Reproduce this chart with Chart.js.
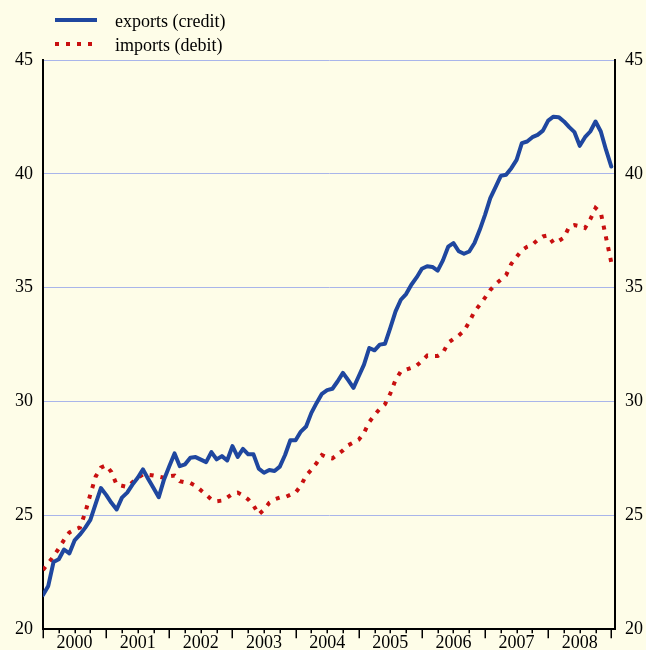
<!DOCTYPE html>
<html>
<head>
<meta charset="utf-8">
<script src="https://cdn.jsdelivr.net/npm/chart.js@4.4.1/dist/chart.umd.min.js"></script>
<style>
  html, body { margin: 0; padding: 0; background: #fefde8; }
  #wrap { width: 646px; height: 650px; }
  canvas { display: block; background: #fefde8; }
</style>
</head>
<body>
<div id="wrap"><canvas id="c" width="646" height="650"></canvas></div>
<script>
// Monthly series, starting January 2000 (index 0), billions
const years = ['2000', '2001', '2002', '2003', '2004', '2005', '2006', '2007', '2008'];

const exportsCredit = [
  21.5, 21.9, 22.95, 23.07, 23.5, 23.33, 23.9, 24.15, 24.45, 24.8, 25.5, 26.2,
  25.9, 25.55, 25.26, 25.78, 26.0, 26.35, 26.65, 27.02, 26.6, 26.2, 25.8, 26.58,
  27.16, 27.72, 27.16, 27.24, 27.53, 27.56, 27.45, 27.34, 27.78, 27.46, 27.6, 27.41,
  28.04, 27.57, 27.92, 27.68, 27.68, 27.05, 26.87, 26.99, 26.95, 27.14, 27.65, 28.3,
  28.3, 28.68, 28.9, 29.5, 29.94, 30.34, 30.5, 30.56, 30.89, 31.26, 30.94, 30.6,
  31.11, 31.62, 32.35, 32.25, 32.5, 32.54, 33.23, 33.96, 34.47, 34.72, 35.13, 35.45,
  35.83, 35.94, 35.91, 35.75, 36.2, 36.8, 36.96, 36.6, 36.49, 36.59, 36.96, 37.54,
  38.2, 38.93, 39.42, 39.91, 39.96, 40.25, 40.61, 41.35, 41.42, 41.61, 41.71, 41.9,
  42.34, 42.51, 42.49, 42.3, 42.05, 41.83, 41.23, 41.61, 41.86, 42.3, 41.86, 41.05,
  40.32
];

const importsDebit = [
  22.6, 22.9, 23.2, 23.55, 23.92, 24.25, 24.38, 24.46, 25.1, 25.92, 26.7, 27.1,
  27.2, 26.9, 26.35, 26.3, 26.25, 26.45, 26.65, 26.8, 26.78, 26.75, 26.7, 26.65,
  26.72, 26.75, 26.5, 26.45, 26.42, 26.3, 26.1, 25.9, 25.7, 25.62, 25.65, 25.78,
  25.95, 26.0, 25.88, 25.7, 25.44, 25.04, 25.25, 25.55, 25.7, 25.78, 25.8, 25.9,
  26.0, 26.3, 26.75, 27.0, 27.3, 27.65, 27.55, 27.5, 27.68, 27.85, 28.08, 28.2,
  28.32, 28.62, 29.1, 29.4, 29.68, 29.88, 30.35, 30.95, 31.32, 31.4, 31.48, 31.58,
  31.78, 32.02, 32.0, 32.0, 32.14, 32.58, 32.75, 32.9, 33.1, 33.5, 33.95, 34.25,
  34.56, 34.9, 35.15, 35.35, 35.55, 36.05, 36.35, 36.65, 36.8, 36.89, 37.1, 37.25,
  37.3, 36.95, 37.05, 37.2, 37.68, 37.75, 37.7, 37.62, 38.0, 38.5, 38.3, 37.2,
  36.1
];

const seriesNames = ['exports (credit)', 'imports (debit)'];
const yTicks = [20, 25, 30, 35, 40, 45];

const BLUE = '#1f479f';
const RED = '#c81010';
const GRID = '#a9b5ea';
const FONT = "'Liberation Serif', 'Times New Roman', serif";

const toPoints = arr => arr.map((v, i) => ({ x: i, y: v }));

// Quarter and year tick marks below the time axis
const timeTicks = {
  id: 'timeTicks',
  afterDraw(chart) {
    const { ctx, chartArea, scales } = chart;
    const x = scales.x;
    ctx.save();
    ctx.strokeStyle = '#000';
    ctx.lineWidth = 1.5;
    for (let m = 0; m <= years.length * 12; m += 3) {
      const px = Math.round(x.getPixelForValue(m)) + 0.25;
      const len = (m % 12 === 0) ? 9 : 4;
      ctx.beginPath();
      ctx.moveTo(px, chartArea.bottom);
      ctx.lineTo(px, chartArea.bottom + len);
      ctx.stroke();
    }
    ctx.restore();
  }
};

// Two-row key in the top-left corner
const keyBox = {
  id: 'keyBox',
  afterDraw(chart) {
    const { ctx } = chart;
    ctx.save();
    chart.data.datasets.forEach((ds, i) => {
      const y = 20 + i * 24;
      ctx.beginPath();
      ctx.strokeStyle = ds.borderColor;
      ctx.lineWidth = ds.borderWidth;
      ctx.lineCap = 'butt';
      ctx.setLineDash(ds.borderDash || []);
      ctx.moveTo(55, y);
      ctx.lineTo(97, y);
      ctx.stroke();
      ctx.setLineDash([]);
      ctx.fillStyle = '#000';
      ctx.font = '18px ' + FONT;
      ctx.textBaseline = 'middle';
      ctx.textAlign = 'left';
      ctx.fillText(ds.label, 115, y + 2);
    });
    ctx.restore();
  }
};

const yScaleBase = {
  type: 'linear',
  min: 20,
  max: 45,
  afterBuildTicks: s => { s.ticks = yTicks.map(v => ({ value: v })); },
  ticks: { color: '#000', padding: 10, font: { family: FONT, size: 18 } },
  border: { display: true, color: '#000', width: 2 }
};

new Chart(document.getElementById('c'), {
  type: 'line',
  data: {
    datasets: [
      {
        label: seriesNames[0],
        data: toPoints(exportsCredit),
        borderColor: BLUE,
        borderWidth: 4,
        pointRadius: 0,
        tension: 0,
        borderJoinStyle: 'round',
        borderCapStyle: 'round'
      },
      {
        label: seriesNames[1],
        data: toPoints(importsDebit),
        borderColor: RED,
        borderWidth: 4,
        borderDash: [4, 7],
        borderCapStyle: 'butt',
        pointRadius: 0,
        tension: 0
      }
    ]
  },
  options: {
    responsive: false,
    animation: false,
    layout: { padding: { top: 60, left: 0, right: 0, bottom: 0 } },
    plugins: { legend: { display: false }, tooltip: { enabled: false } },
    scales: {
      x: {
        type: 'linear',
        position: 'bottom',
        min: 0,
        max: years.length * 12 + 0.7,
        afterBuildTicks: s => { s.ticks = years.map((y, k) => ({ value: k * 12 + 6 })); },
        afterFit: s => { s.height = 20; },
        ticks: {
          autoSkip: false,
          maxRotation: 0,
          padding: 3,
          color: '#000',
          font: { family: FONT, size: 18 },
          callback: v => years[Math.round((v - 6) / 12)]
        },
        grid: { display: false, drawTicks: false },
        border: { display: true, color: '#000', width: 2 }
      },
      y: Object.assign({}, yScaleBase, {
        position: 'left',
        afterFit: s => { s.width = 43; },
        grid: { color: GRID, lineWidth: 1, drawTicks: false }
      }),
      y2: Object.assign({}, yScaleBase, {
        position: 'right',
        afterFit: s => { s.width = 31; },
        grid: { display: false, drawTicks: false }
      })
    }
  },
  plugins: [timeTicks, keyBox]
});
</script>
</body>
</html>
